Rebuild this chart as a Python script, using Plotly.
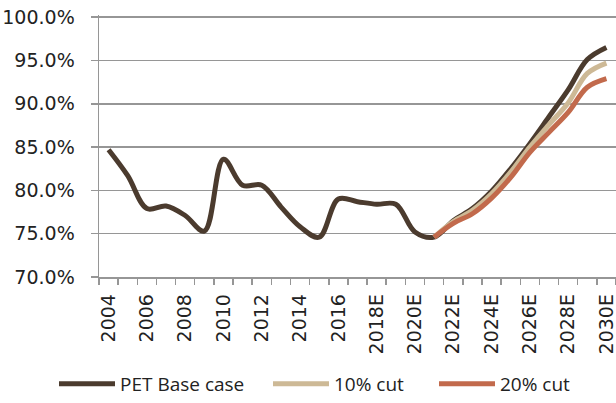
import plotly.graph_objects as go

years = list(range(2004, 2031))
tick_years = years[::2]
tick_labels = ["2004", "2006", "2008", "2010", "2012", "2014", "2016",
               "2018E", "2020E", "2022E", "2024E", "2026E", "2028E", "2030E"]

base_case = [84.7, 81.7, 77.9, 78.2, 77.1, 75.3, 83.6, 80.6, 80.6, 78.1,
             75.8, 74.6, 79.0, 78.7, 78.4, 78.4, 75.2, 74.6, 76.5, 77.9,
             79.9, 82.5, 85.4, 88.5, 91.6, 95.1, 96.5]
cut_years = list(range(2021, 2031))
cut10 = [74.6, 76.4, 77.7, 79.6, 82.1, 85.0, 87.6, 90.1, 93.5, 94.7]
cut20 = [74.6, 76.2, 77.3, 79.1, 81.5, 84.4, 86.7, 89.0, 91.9, 92.9]

c_base = "#4b3b2e"
c_10 = "#cdb996"
c_20 = "#c26a4c"
grid = "#969696"
text_c = "#222222"

fig = go.Figure()
fig.add_trace(go.Scatter(x=years, y=base_case, name="PET Base case", mode="lines",
                         line=dict(color=c_base, width=5, shape="spline", smoothing=1),
                         legend="legend"))
fig.add_trace(go.Scatter(x=cut_years, y=cut10, name="10% cut", mode="lines",
                         line=dict(color=c_10, width=5, shape="spline", smoothing=1),
                         legend="legend2"))
fig.add_trace(go.Scatter(x=cut_years, y=cut20, name="20% cut", mode="lines",
                         line=dict(color=c_20, width=5, shape="spline", smoothing=1),
                         legend="legend3"))

W, H = 616, 403
y_min, y_max, y_pad = 70, 100, 0.25
plot_left, plot_right = 99, 616
y100_px, y70_px = 17, 279                      # pixel rows of 100% and 70%
px_per_unit = (y70_px - y100_px) / (y_max - y_min)
plot_top = y100_px - y_pad * px_per_unit        # small headroom so the 100% grid line is not clipped
plot_bottom = y70_px
ml = plot_left
mr = W - plot_right
mt = plot_top
mb = H - plot_bottom
pw = plot_right - plot_left
ph = plot_bottom - plot_top

def px_x(px):
    return (px - plot_left) / pw

def px_y(py):
    return (plot_bottom - py) / ph

IW = 56
leg_font = dict(family="Open Sans", size=19, color=text_c)
common_leg = dict(orientation="h", yanchor="middle", xanchor="left",
                  font=leg_font, bgcolor="rgba(0,0,0,0)", itemwidth=IW)
gap = IW + 10

fig.update_layout(
    width=W, height=H,
    margin=dict(l=ml, r=mr, t=mt, b=mb, pad=0),
    paper_bgcolor="white", plot_bgcolor="white",
    showlegend=True,
    legend=dict(x=px_x(120 - gap), y=px_y(387), **common_leg),
    legend2=dict(x=px_x(334 - gap), y=px_y(387), **common_leg),
    legend3=dict(x=px_x(500 - gap), y=px_y(387), **common_leg),
    font=dict(family="DejaVu Sans", size=19, color=text_c),
)

fig.update_xaxes(
    range=[years[0] - 0.5, years[-1] + 0.5],
    tickmode="array", tickvals=tick_years, ticktext=tick_labels,
    tickangle=-90, ticks="", showgrid=False,
    showline=True, linecolor=grid, linewidth=1.5,
    ticklabelstandoff=8, ticklabeloverflow="allow",
    minor=dict(tickmode="array", tickvals=[y - 0.5 for y in years] + [years[-1] + 0.5],
               ticks="outside", ticklen=6, tickcolor=grid, tickwidth=1.5, showgrid=False),
    tickfont=dict(family="DejaVu Sans", size=19, color=text_c),
    zeroline=False, fixedrange=True,
)
fig.update_yaxes(
    range=[y_min, y_max + y_pad], dtick=5, tick0=70,
    tickformat=".1f", ticksuffix="%",
    showgrid=True, gridcolor=grid, gridwidth=1.5,
    showline=True, linecolor=grid, linewidth=1.5,
    ticks="outside", ticklen=7, tickcolor=grid, tickwidth=1.5,
    ticklabelstandoff=12, ticklabeloverflow="allow",
    tickfont=dict(family="DejaVu Sans", size=19, color=text_c),
    zeroline=False, fixedrange=True,
)

page_css = ("document.body.style.margin='0';"
            "document.body.style.overflow='hidden';"
            "document.documentElement.style.overflow='hidden';")
fig.write_html("out.html", post_script=page_css,
               config={"displayModeBar": False, "staticPlot": True})
